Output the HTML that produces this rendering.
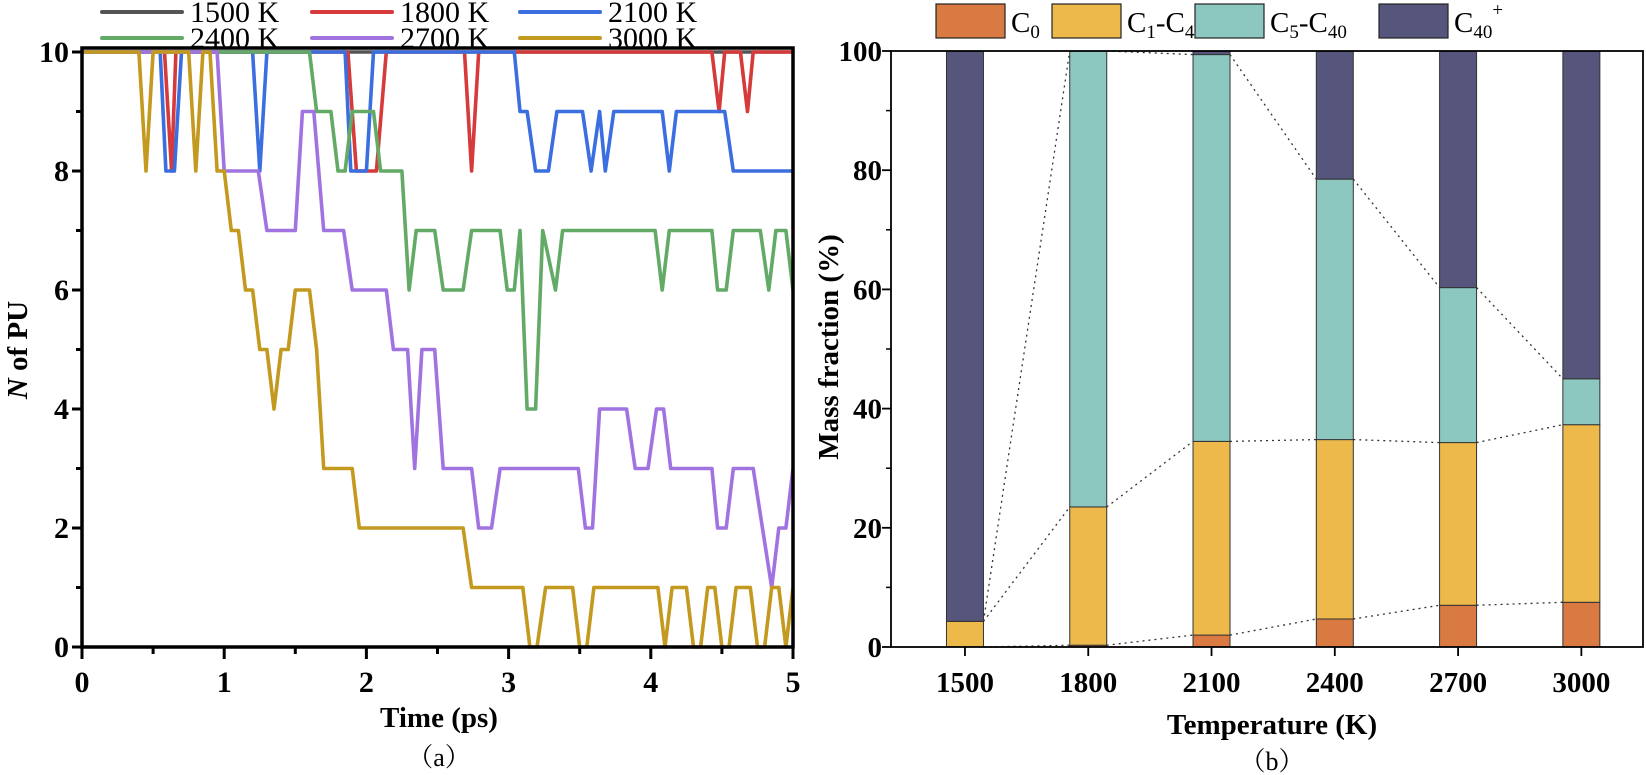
<!DOCTYPE html>
<html><head><meta charset="utf-8">
<style>
html,body{margin:0;padding:0;background:#fff;}
svg{display:block;font-family:"Liberation Serif",serif;}
</style></head>
<body>
<svg id="fig" width="1646" height="775" viewBox="0 0 1646 775" xmlns="http://www.w3.org/2000/svg">
<g id="left"></g>
<g id="right"></g>
</svg>
<script>
// ---------- Left chart data (time ps, N of PU) ----------
const seriesNames = ["1500 K","1800 K","2100 K","2400 K","2700 K","3000 K"];
const seriesColors = ["#555555","#d63a3a","#3b6fe0","#62aa66","#a173e0","#c4991f"];
const s1500 = [[0,10],[5,10]];
const s1800 = [[0,10],[0.58,10],[0.63,8],[0.66,10],[1.87,10],[1.93,8],[2.07,8],[2.14,10],[2.69,10],[2.74,8],[2.79,10],[4.43,10],[4.48,9],[4.52,10],[4.63,10],[4.68,9],[4.72,10],[5,10]];
const s2100 = [[0,10],[0.55,10],[0.59,8],[0.65,8],[0.70,10],[1.20,10],[1.25,8],[1.30,10],[1.85,10],[1.89,8],[2.0,8],[2.05,10],[3.04,10],[3.08,9],[3.13,9],[3.19,8],[3.28,8],[3.34,9],[3.52,9],[3.58,8],[3.64,9],[3.68,8],[3.74,9],[4.08,9],[4.13,8],[4.18,9],[4.52,9],[4.58,8],[5,8]];
const s2400 = [[0,10],[1.60,10],[1.65,9],[1.75,9],[1.80,8],[1.85,8],[1.90,9],[2.05,9],[2.10,8],[2.25,8],[2.30,6],[2.35,7],[2.48,7],[2.54,6],[2.68,6],[2.74,7],[2.94,7],[2.99,6],[3.04,6],[3.08,7],[3.13,4],[3.19,4],[3.24,7],[3.33,6],[3.38,7],[4.03,7],[4.08,6],[4.13,7],[4.43,7],[4.47,6],[4.53,6],[4.58,7],[4.77,7],[4.83,6],[4.88,7],[4.95,7],[5,6]];
const s2700 = [[0,10],[0.95,10],[1.0,8],[1.24,8],[1.30,7],[1.50,7],[1.55,9],[1.63,9],[1.70,7],[1.84,7],[1.90,6],[2.14,6],[2.19,5],[2.29,5],[2.34,3],[2.39,5],[2.48,5],[2.54,3],[2.74,3],[2.79,2],[2.88,2],[2.94,3],[3.49,3],[3.54,2],[3.59,2],[3.64,4],[3.83,4],[3.89,3],[3.98,3],[4.04,4],[4.09,4],[4.14,3],[4.43,3],[4.47,2],[4.53,2],[4.58,3],[4.72,3],[4.85,1],[4.90,2],[4.95,2],[5,3]];
const s3000 = [[0,10],[0.40,10],[0.45,8],[0.50,10],[0.75,10],[0.80,8],[0.85,10],[0.90,10],[0.95,8],[1.0,8],[1.05,7],[1.10,7],[1.15,6],[1.20,6],[1.25,5],[1.30,5],[1.35,4],[1.40,5],[1.45,5],[1.50,6],[1.60,6],[1.65,5],[1.70,3],[1.90,3],[1.95,2],[2.68,2],[2.74,1],[3.10,1],[3.15,0],[3.20,0],[3.26,1],[3.45,1],[3.50,0],[3.55,0],[3.60,1],[4.05,1],[4.10,0],[4.15,1],[4.25,1],[4.30,0],[4.35,0],[4.40,1],[4.45,1],[4.50,0],[4.55,0],[4.60,1],[4.70,1],[4.75,0],[4.80,0],[4.85,1],[4.90,1],[4.95,0],[5,1]];
const seriesData = [s1500,s1800,s2100,s2400,s2700,s3000];
const xTicksL = [0,1,2,3,4,5];
const yTicksL = [0,2,4,6,8,10];

// ---------- Right chart data ----------
const temps = ["1500","1800","2100","2400","2700","3000"];
const c0   = [0, 0.3, 2.0, 4.7, 7.0, 7.5];
const c1c4 = [4.3, 23.2, 32.5, 30.1, 27.3, 29.8];
const c5c40= [0, 76.5, 64.9, 43.7, 26.0, 7.7];
const c40p = [95.7, 0, 0.6, 21.5, 39.7, 55.0];
const stackNames = ["C0","C1-C4","C5-C40","C40+"];
const stackColors = ["#d97a42","#edb94b","#8cc8c0","#56557b"];
const yTicksR = [0,20,40,60,80,100];

const NS="http://www.w3.org/2000/svg";
function mk(parent,tag,attrs,text){const e=document.createElementNS(NS,tag);for(const k in attrs)e.setAttribute(k,attrs[k]);if(text!==undefined)e.textContent=text;parent.appendChild(e);return e;}

// ===== LEFT =====
const L=document.getElementById('left');
const lx0=82,lx1=793,ly0=647,ly10=52,lyTop=48;
const xL=t=>lx0+(lx1-lx0)*t/5;
const yL=v=>ly0+(ly10-ly0)*v/10;
seriesData.forEach((d,i)=>{
  const pts=d.map(p=>xL(p[0]).toFixed(1)+","+yL(p[1]).toFixed(1)).join(" ");
  const pl=mk(L,'polyline',{points:pts,fill:'none',stroke:seriesColors[i],'stroke-width':3.6,'stroke-linejoin':'round'});
  
  
});
const fr=mk(L,'rect',{x:lx0,y:lyTop,width:lx1-lx0,height:ly0-lyTop,fill:'none',stroke:'#000','stroke-width':3.5});


for(let v=0;v<=10;v++){
  const maj=v%2===0;
  mk(L,'line',{x1:lx0,x2:lx0-(maj?10:6),y1:yL(v),y2:yL(v),stroke:'#000','stroke-width':3});
}
yTicksL.forEach(v=>{
  const t=mk(L,'text',{x:69,y:yL(v)+10,'text-anchor':'end','font-size':30,'font-weight':'bold'},v);
  
  
});
for(let k=0;k<=10;k++){
  const t=k/2,maj=k%2===0;
  mk(L,'line',{x1:xL(t),x2:xL(t),y1:ly0,y2:ly0+(maj?12:7),stroke:'#000','stroke-width':3});
}
xTicksL.forEach(v=>{
  const t=mk(L,'text',{x:xL(v),y:692,'text-anchor':'middle','font-size':30,'font-weight':'bold'},v);
  
  
});
let tt=mk(L,'text',{x:439,y:727,'text-anchor':'middle','font-size':29,'font-weight':'bold'},'Time (ps)');


tt=mk(L,'text',{x:439,y:766,'text-anchor':'middle','font-size':26,'font-family':'"Liberation Serif","Noto Serif CJK SC",serif'},'（a）');


tt=mk(L,'text',{x:0,y:0,'text-anchor':'middle','font-size':29,'font-weight':'bold',transform:'translate(27,350) rotate(-90)'});


mk(tt,'tspan',{'font-style':'italic'},'N');
mk(tt,'tspan',{},' of PU');
const legX=[102,312,520];
seriesNames.forEach((n,i)=>{
  const r=Math.floor(i/3),c=i%3,yy=r===0?12:38;
  const g=mk(L,'g',{});
  
  
  mk(g,'line',{x1:legX[c],x2:legX[c]+80,y1:yy,y2:yy,stroke:seriesColors[i],'stroke-width':4,'stroke-linecap':'round'});
  mk(g,'text',{x:legX[c]+88,y:yy+10,'font-size':30},n);
});

// ===== RIGHT =====
const R=document.getElementById('right');
const rx0=891,rx1=1643,ry0=647,ry100=51;
const xR=i=>rx0+(rx1-rx0)*(i+0.6)/6.1;
const yR=v=>ry0+(ry100-ry0)*v/100;
const bw=37;
const stacks=[c0,c1c4,c5c40,c40p];
for(let i=0;i<temps.length-1;i++){
  let ca=0,cb=0;
  for(let s=0;s<3;s++){
    ca+=stacks[s][i];cb+=stacks[s][i+1];
    const ln=mk(R,'line',{x1:xR(i)+bw/2,y1:yR(ca),x2:xR(i+1)-bw/2,y2:yR(cb),stroke:'#333','stroke-width':1.3,'stroke-dasharray':'2,4'});
    
    
  }
}
temps.forEach((tp,i)=>{
  let cum=0;
  stacks.forEach((arr,s)=>{
    const v=arr[i];
    if(v>0){
      const rc=mk(R,'rect',{x:xR(i)-bw/2,y:yR(cum+v),width:bw,height:yR(cum)-yR(cum+v),fill:stackColors[s],stroke:'#333','stroke-width':1});
      
      
    }
    cum+=v;
  });
});
const fr2=mk(R,'rect',{x:rx0,y:ry100,width:rx1-rx0,height:ry0-ry100,fill:'none',stroke:'#000','stroke-width':1.8});


yTicksR.forEach(v=>{
  mk(R,'line',{x1:rx0,x2:rx0-9,y1:yR(v),y2:yR(v),stroke:'#000','stroke-width':1.8});
  const t=mk(R,'text',{x:882,y:yR(v)+10,'text-anchor':'end','font-size':29,'font-weight':'bold'},v);
  
  
});
for(let v=10;v<100;v+=20) mk(R,'line',{x1:rx0,x2:rx0-5,y1:yR(v),y2:yR(v),stroke:'#000','stroke-width':1.5});
temps.forEach((tp,i)=>{
  mk(R,'line',{x1:xR(i),x2:xR(i),y1:ry0,y2:ry0+9,stroke:'#000','stroke-width':1.8});
  const t=mk(R,'text',{x:xR(i),y:692,'text-anchor':'middle','font-size':29,'font-weight':'bold'},tp);
  
  
});
tt=mk(R,'text',{x:1272,y:734,'text-anchor':'middle','font-size':29,'font-weight':'bold'},'Temperature (K)');


tt=mk(R,'text',{x:1272,y:770,'text-anchor':'middle','font-size':26,'font-family':'"Liberation Serif","Noto Serif CJK SC",serif'},'（b）');


tt=mk(R,'text',{x:0,y:0,'text-anchor':'middle','font-size':29,'font-weight':'bold',transform:'translate(838,347) rotate(-90)'},'Mass fraction (%)');


const lgBox=[936,1052,1195,1379];
const lgLab=[[["C",""],["0","sub"]],[["C",""],["1","sub"],["-C",""],["4","sub"]],[["C",""],["5","sub"],["-C",""],["40","sub"]],[["C",""],["40","sub"],["+","sup"]]];
stackNames.forEach((n,s)=>{
  const g=mk(R,'g',{});
  
  
  mk(g,'rect',{x:lgBox[s],y:4,width:69,height:34,fill:stackColors[s],stroke:'#222','stroke-width':1.2});
  const t=mk(g,'text',{x:lgBox[s]+75,y:32,'font-size':29});
  lgLab[s].forEach(p=>{
    if(p[1]==='sub') mk(t,'tspan',{'font-size':19,dy:6},p[0]);
    else if(p[1]==='sup') mk(t,'tspan',{'font-size':19,dy:-22},p[0]);
    else { const ts=mk(t,'tspan',{},p[0]); if(t.childNodes.length>1) ts.setAttribute('dy',-6); }
  });
});
</script>
</body></html>
